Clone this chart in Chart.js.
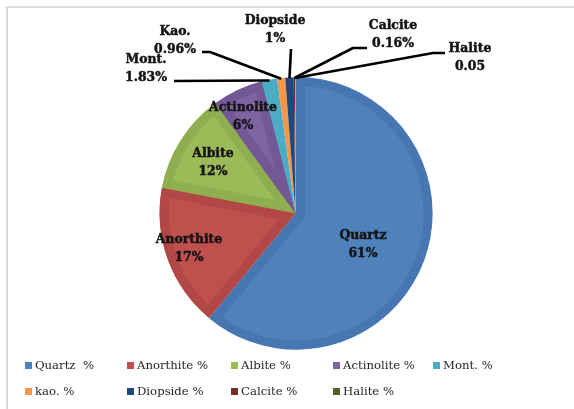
<!DOCTYPE html>
<html>
<head>
<meta charset="utf-8">
<script src="https://cdn.jsdelivr.net/npm/chart.js@4/dist/chart.umd.min.js"></script>
<style>
  html, body { margin: 0; padding: 0; background: #fff; overflow: hidden; }
  #wrap { position: relative; width: 574px; height: 409px; overflow: hidden; }
  canvas { position: absolute; left: 0; top: 0; }
  .lg { position: absolute; font-family: "DejaVu Serif", serif; font-size: 11.7px; color: #1e1e1e;
        white-space: pre; line-height: 14px; }
  .lg i { display: inline-block; width: 7px; height: 7px; margin-right: 3px; vertical-align: 0px; }
</style>
</head>
<body>
<div id="wrap">
  <canvas id="c" width="574" height="409"></canvas>
  <div id="legend"></div>
</div>
<script>
// ---- data ----
const categories = ["Quartz", "Anorthite", "Albite", "Actinolite", "Mont.", "kao.", "Diopside", "Calcite", "Halite"];
const legendLabels = ["Quartz  %", "Anorthite %", "Albite %", "Actinolite %", "Mont. %", "kao. %", "Diopside %", "Calcite %", "Halite %"];
const values = [61, 17, 12, 6, 1.83, 0.96, 1, 0.16, 0.05];
const valueLabels = ["61%", "17%", "12%", "6%", "1.83%", "0.96%", "1%", "0.16%", "0.05"];
const dataLabelNames = ["Quartz", "Anorthite", "Albite", "Actinolite", "Mont.", "Kao.", "Diopside", "Calcite", "Halite"];

// ---- styles ----
const fills = ["#4F81BD", "#C0504D", "#9BBB59", "#8064A2", "#4BACC6", "#F79646", "#1F497D", "#772C2A", "#4F6228"];
const rims  = ["#4876B2", "#B24845", "#8FAE50", "#745895", "#4BACC6", "#F79646", "#22436F", "#772C2A", "#4F6228"];

// label placement: inside labels [cx, firstLineY]; outside labels with leader polyline start points
const inside = { 0: [363, 236], 1: [189, 240], 2: [213, 154], 3: [243, 108] };
const outside = {
  4: { cx: 146, y: 60, pts: [[174, 81], [262, 80.5]] },
  5: { cx: 175, y: 32, pts: [[202, 52], [210, 52]] },
  6: { cx: 275, y: 21, pts: [[291, 49]] },
  7: { cx: 393, y: 26, pts: [[367, 48], [353, 48]] },
  8: { cx: 470, y: 49, pts: [[445, 53], [433, 53]] }
};

const framePlugin = {
  id: 'frame',
  beforeDraw(chart) {
    const ctx = chart.ctx;
    ctx.save();
    ctx.strokeStyle = '#d9d9d9';
    ctx.lineWidth = 2;
    ctx.beginPath();
    ctx.moveTo(7, 409);
    ctx.lineTo(7, 7);
    ctx.lineTo(574, 7);
    ctx.stroke();
    ctx.restore();
  }
};

const labelPlugin = {
  id: 'labels',
  afterDatasetsDraw(chart) {
    const ctx = chart.ctx;
    const meta = chart.getDatasetMeta(0);
    ctx.save();
    ctx.font = 'bold 12.4px "DejaVu Serif", serif';
    ctx.textAlign = 'center';
    ctx.textBaseline = 'middle';
    ctx.fillStyle = '#141414';
    const lh = 17.5;
    const txt = (t, x, y) => {
      ctx.lineWidth = 0.5;
      ctx.strokeStyle = '#141414';
      ctx.strokeText(t, x, y);
      ctx.fillText(t, x, y);
    };
    meta.data.forEach((arc, i) => {
      const lines = [dataLabelNames[i], valueLabels[i]];
      if (inside[i]) {
        const [cx, y] = inside[i];
        lines.forEach((t, k) => txt(t, cx, y + k * lh));
      } else if (outside[i]) {
        const o = outside[i];
        const p = arc.getProps(['x', 'y', 'startAngle', 'endAngle', 'outerRadius'], true);
        const mid = (p.startAngle + p.endAngle) / 2;
        const ax = p.x + Math.cos(mid) * (p.outerRadius - 1);
        const ay = p.y + Math.sin(mid) * (p.outerRadius - 1);
        ctx.beginPath();
        ctx.strokeStyle = '#000';
        ctx.lineWidth = 2.6;
        ctx.lineJoin = 'round';
        ctx.moveTo(o.pts[0][0], o.pts[0][1]);
        for (let k = 1; k < o.pts.length; k++) ctx.lineTo(o.pts[k][0], o.pts[k][1]);
        ctx.lineTo(ax, ay);
        ctx.stroke();
        lines.forEach((t, k) => txt(t, o.cx, o.y + k * lh));
      }
    });
    ctx.restore();
  }
};

new Chart(document.getElementById('c'), {
  type: 'pie',
  data: {
    labels: categories,
    datasets: [{
      data: values,
      backgroundColor: fills,
      borderColor: rims,
      borderWidth: [9, 9, 9, 9, 0, 0, 0, 0, 0],
      borderAlign: 'inner',
      offset: [3, 0, 0, 0, 0, 0, 0, 0, 0],
      hoverOffset: 0
    }]
  },
  options: {
    responsive: false,
    devicePixelRatio: 1,
    animation: false,
    events: [],
    layout: { padding: { left: 158, right: 141, top: 75.5, bottom: 58.5 } },
    plugins: { legend: { display: false }, tooltip: { enabled: false } }
  },
  plugins: [framePlugin, labelPlugin]
});

// ---- legend ----
const colX = [25, 127, 231, 333, 433];
const rowY = [365, 391];
const lg = document.getElementById('legend');
legendLabels.forEach((t, i) => {
  const d = document.createElement('div');
  d.className = 'lg';
  const col = i % 5, row = Math.floor(i / 5);
  d.style.left = colX[col] + 'px';
  d.style.top = (rowY[row] - 7) + 'px';
  d.innerHTML = '<i style="background:' + fills[i] + '"></i>' + t;
  lg.appendChild(d);
});
</script>
</body>
</html>
